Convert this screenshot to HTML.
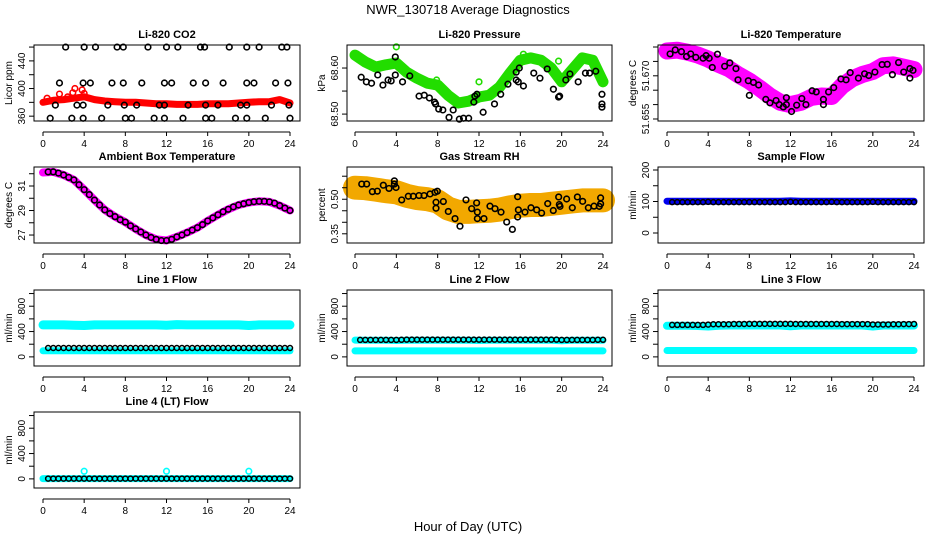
<!DOCTYPE html>
<html><head><meta charset="utf-8">
<style>
html,body{margin:0;padding:0;background:#fff;}
svg{display:block;font-family:"Liberation Sans",sans-serif;}
</style></head>
<body>
<svg id="chart" width="936" height="540" viewBox="0 0 936 540" xmlns="http://www.w3.org/2000/svg">
<text x="468" y="14" text-anchor="middle" font-size="13">NWR_130718  Average Diagnostics</text>
<text x="468" y="531" text-anchor="middle" font-size="13">Hour of Day (UTC)</text>
</svg>
<script>
const HOURS=[0,1,2,3,4,5,6,7,8,9,10,11,12,13,14,15,16,17,18,19,20,21,22,23,24];
const HALF=[0.5,1,1.5,2,2.5,3,3.5,4,4.5,5,5.5,6,6.5,7,7.5,8,8.5,9,9.5,10,10.5,11,11.5,12,12.5,13,13.5,14,14.5,15,15.5,16,16.5,17,17.5,18,18.5,19,19.5,20,20.5,21,21.5,22,22.5,23,23.5,24];
const X_TICKS=[0,4,8,12,16,20,24];

// CO2
const co2Red=[380,383,384,386,388,384,382,381,380,380,379,378,378,377,377,377,378,378,378,379,380,381,381,384,379];
const co2SpikeX=[1.6,2.9,3.1,3.8,4.0,0.4,2.4];
const co2SpikeY=[392,394,400,398,393,386,388];
const co2BlackX=[2.2,4.0,5.1,7.2,7.8,10.2,12.0,13.1,15.3,15.7,18.1,19.8,21.0,23.2,23.7,
1.6,3.9,4.6,6.7,7.8,9.6,11.8,12.5,14.6,15.8,17.5,19.8,20.5,22.6,23.8,
1.2,3.3,3.9,6.3,7.9,9.1,11.3,11.8,14.1,15.8,17.0,19.2,19.8,22.2,23.9,
0.7,2.8,3.9,5.7,8.0,8.6,10.8,11.8,13.6,15.8,16.4,18.7,19.8,21.6,24.0];
const co2BlackY=[460,460,460,460,460,460,460,460,460,460,460,460,460,460,460,
408,408,408,408,408,408,408,408,408,408,408,408,408,408,408,
376,376,376,376,376,376,376,376,376,376,376,376,376,376,376,
357,357,357,357,357,357,357,357,357,357,357,357,357,357,357];

// Pressure
const presGreen=[68.628,68.613,68.602,68.607,68.611,68.591,68.578,68.567,68.563,68.541,68.524,68.528,68.537,68.541,68.559,68.589,68.617,68.622,68.617,68.600,68.570,68.596,68.622,68.617,68.570];
const presStrayX=[4.0,12.0,7.9,16.3,19.7,0.2];
const presStrayY=[68.646,68.570,68.574,68.630,68.615,68.630];
const presBlackX=[0.6,1.1,1.6,2.2,2.7,3.2,3.5,3.9,3.9,4.6,5.3,6.2,6.7,7.2,7.7,7.8,8.1,8.5,9.1,9.5,10.1,10.5,11.0,11.5,11.6,11.8,12.4,13.5,14.1,14.8,15.6,15.6,15.8,15.9,16.3,17.3,17.9,18.6,19.2,19.7,19.8,20.4,20.8,21.6,22.3,22.7,23.3,23.9,23.9,23.9];
const presBlackY=[68.580,68.570,68.567,68.585,68.563,68.574,68.572,68.585,68.624,68.570,68.583,68.539,68.541,68.535,68.526,68.522,68.511,68.509,68.493,68.509,68.489,68.491,68.491,68.526,68.539,68.543,68.504,68.522,68.543,68.565,68.591,68.574,68.570,68.600,68.561,68.589,68.578,68.598,68.554,68.537,68.539,68.574,68.587,68.570,68.589,68.589,68.593,68.543,68.522,68.515];

// Li-820 temperature
const tempMag=[51.6786,51.6789,51.6782,51.6772,51.6758,51.6740,51.6725,51.6702,51.6682,51.6657,51.6630,51.6608,51.6600,51.6608,51.6625,51.6630,51.6628,51.6665,51.6690,51.6705,51.6715,51.6735,51.6738,51.6730,51.6722];
const tempBlackX=[0.3,0.8,1.4,1.9,2.3,2.8,3.5,3.8,4.1,4.4,4.9,5.6,6.1,6.7,6.9,7.9,8.0,8.4,8.9,9.6,10.0,10.6,10.9,11.3,11.6,11.6,12.1,12.6,13.1,13.5,14.1,14.5,15.2,15.2,15.7,16.2,16.9,17.4,17.8,18.6,19.2,19.6,20.2,20.9,21.4,21.9,22.5,23.0,23.6,23.6,23.9];
const tempBlackY=[51.6776,51.6790,51.6784,51.6767,51.6776,51.6764,51.6761,51.6770,51.6761,51.6729,51.6775,51.6733,51.6745,51.6725,51.6686,51.6683,51.6632,51.6677,51.6668,51.6618,51.6606,51.6614,51.6600,51.6592,51.6624,51.6600,51.6576,51.6598,51.6621,51.6600,51.6648,51.6644,51.6600,51.6618,51.6644,51.6659,51.6689,51.6686,51.6711,51.6692,51.6707,51.6701,51.6713,51.6739,51.6740,51.6704,51.6746,51.6713,51.6725,51.6692,51.6719];

// Ambient box temperature
const ambMag=[32.1,32.15,31.9,31.5,30.7,29.85,29.05,28.5,28.05,27.5,27.0,26.65,26.55,26.85,27.2,27.6,28.15,28.65,29.1,29.45,29.65,29.75,29.7,29.4,29.0];
const ambBlack=[32.15,32.15,32.05,31.9,31.7,31.5,31.1,30.7,30.3,29.85,29.45,29.05,28.75,28.5,28.25,28.05,27.75,27.5,27.25,27.0,26.8,26.65,26.55,26.55,26.65,26.85,27.0,27.2,27.4,27.6,27.85,28.15,28.4,28.65,28.9,29.1,29.3,29.45,29.55,29.65,29.72,29.75,29.75,29.7,29.6,29.4,29.2,29.0];

// Gas stream RH
const rhOrange=[0.55,0.548,0.542,0.535,0.53,0.515,0.505,0.5,0.49,0.46,0.445,0.445,0.448,0.45,0.455,0.465,0.472,0.475,0.475,0.48,0.485,0.49,0.495,0.495,0.495];
const rhBlackX=[0.65,1.13,1.68,2.16,2.74,3.29,3.81,3.81,3.97,4.52,5.16,5.64,6.19,6.68,7.26,7.74,7.97,7.84,7.84,8.55,9.03,9.68,10.16,10.74,11.29,11.77,11.84,11.84,12.48,13.06,13.55,14.13,14.68,15.23,15.74,15.81,15.74,16.45,17.03,17.58,18.06,18.65,19.19,19.71,19.77,19.84,20.48,21.03,21.52,22.03,22.58,23.13,23.64,23.77,23.77];
const rhBlackY=[0.566,0.566,0.533,0.535,0.561,0.547,0.580,0.566,0.551,0.497,0.513,0.513,0.516,0.516,0.523,0.530,0.535,0.487,0.461,0.490,0.447,0.416,0.383,0.497,0.459,0.484,0.444,0.416,0.416,0.470,0.459,0.444,0.401,0.369,0.511,0.454,0.423,0.444,0.463,0.454,0.440,0.481,0.451,0.510,0.477,0.469,0.501,0.463,0.510,0.491,0.463,0.470,0.469,0.506,0.480];

// Sample flow
const sampleBlue=[101,101,101,101,101,101,101,101,101,101,101,101,102,101,101,101,101,101,101,101,101,101,101,101,101];
const sampleBlack=[98,98,98,98,98,98,98,99,98,98,98,98,98,98,98,98,98,98,98,98,98,98,98,99,98,98,98,98,98,98,98,99,98,98,98,98,98,98,98,99,98,98,98,98,98,98,98,98];

// Line flows
const line1Upper=[505,505,505,500,495,505,505,505,505,505,505,505,500,510,505,505,505,505,505,505,495,505,505,505,505];
const line1Lower=[96,96,96,96,96,96,96,96,96,96,96,96,96,96,96,96,96,96,96,96,96,96,96,96,96];
const line1Black=[140,140,140,140,140,140,140,140,140,140,140,140,140,140,140,140,140,140,140,140,140,140,140,140,140,140,140,140,140,140,140,140,140,140,140,140,140,140,140,140,140,140,140,140,140,140,140,140];
const line2Upper=[265,262,262,262,258,262,262,262,262,262,262,262,258,262,262,262,262,262,262,262,255,262,262,262,262];
const line2Lower=[95,95,95,95,95,95,95,95,95,95,95,95,95,95,95,95,95,95,95,95,95,95,95,95,95];
const line2Black=[268,268,268,268,268,268,268,268,270,272,272,272,272,272,272,272,272,272,272,272,272,272,272,272,272,272,272,272,272,272,272,272,272,272,272,272,272,272,272,268,268,268,268,268,268,268,270,270];
const line3Upper=[490,490,490,488,480,492,495,495,495,495,495,495,485,495,495,495,495,495,495,495,480,495,495,495,495];
const line3Lower=[100,100,100,100,100,100,100,100,100,100,100,100,100,100,100,100,100,100,100,100,100,100,100,100,100];
const line3Black=[505,505,505,505,505,505,505,510,515,515,515,515,520,520,520,522,522,522,522,522,522,522,522,522,520,520,520,520,520,520,520,520,520,518,518,518,518,518,518,512,512,512,512,515,515,518,518,520];
const line4Cyan=[5,5,5,5,5,5,5,5,5,5,5,5,5,5,5,5,5,5,5,5,5,5,5,5,5];
const line4SpikeX=[4,12,20];
const line4SpikeY=[120,120,120];
const line4Black=[5,5,5,5,5,5,5,5,5,5,5,5,5,5,5,5,5,5,5,5,5,5,5,5,5,5,5,5,5,5,5,5,5,5,5,5,5,5,5,5,5,5,5,5,5,5,5,5];

const svg=document.getElementById('chart');
const NS='http://www.w3.org/2000/svg';
const COLS=[{L:34,R:300,x0:43,x24:290},{L:347,R:612,x0:355,x24:603},{L:658,R:924,x0:667,x24:914}];
const ROWS=[45,167,290,412];
const H=76;

function mk(tag,attrs,parent){const e=document.createElementNS(NS,tag);for(const k in attrs)e.setAttribute(k,attrs[k]);(parent||svg).appendChild(e);return e;}

function makePanel(name,col,row,title,ylab,ymin,ymax,ticks,labels){
  const c=COLS[col],top=ROWS[row],bot=top+H;
  const g=mk('g',{});
  
  
  const sx=h=>c.x0+(h/24)*(c.x24-c.x0);
  const sy=v=>top+(ymax-v)/(ymax-ymin)*H;
  const t=mk('text',{x:(c.L+c.R)/2,y:top-7,'text-anchor':'middle','font-size':'11','font-weight':'bold'},g);
  t.textContent=title;
  
  
  const marks=mk('g',{},g);
  
  
  const box=mk('rect',{x:c.L,y:top,width:c.R-c.L,height:H,fill:'none',stroke:'#000','stroke-width':1},g);
  
  
  // x axis
  const xa=mk('g',{},g);
  
  
  const ya=bot+11;
  mk('line',{x1:sx(0),x2:sx(24),y1:ya,y2:ya,stroke:'#000'},xa);
  X_TICKS.forEach(h=>{
    mk('line',{x1:sx(h),x2:sx(h),y1:ya,y2:ya+4,stroke:'#000'},xa);
    const tl=mk('text',{x:sx(h),y:ya+15,'text-anchor':'middle','font-size':'10'},xa);
    tl.textContent=h;
    
    
  });
  // y axis
  const yaG=mk('g',{},g);
  
  
  ticks.forEach(v=>{mk('line',{x1:c.L-5,x2:c.L,y1:sy(v),y2:sy(v),stroke:'#000'},yaG);});
  labels.forEach(s=>{
    const v=parseFloat(s);
    const tl=mk('text',{x:0,y:0,'text-anchor':'middle','font-size':'10',transform:`translate(${c.L-9},${sy(v)}) rotate(-90)`},yaG);
    tl.textContent=s;
    
    
  });
  const yl=mk('text',{x:0,y:0,'text-anchor':'middle','font-size':'10',transform:`translate(${c.L-22},${top+H/2}) rotate(-90)`},g);
  yl.textContent=ylab;
  
  
  return {marks,sx,sy};
}
function band(p,xs,ys,color,w,nm){
  const d=xs.map((h,i)=>p.sx(h).toFixed(1)+','+p.sy(ys[i]).toFixed(1)).join(' ');
  const e=mk('polyline',{points:d,fill:'none',stroke:color,'stroke-width':w,'stroke-linejoin':'round','stroke-linecap':'round'},p.marks);
  
  
}
function pts(p,xs,ys,color,nm,r,sw){
  xs.forEach((h,i)=>{
    const e=mk('circle',{cx:p.sx(h),cy:p.sy(ys[i]),r:r||2.8,fill:'none',stroke:color,'stroke-width':sw||1.6},p.marks);
    
    
  });
}

let p;
p=makePanel('co2',0,0,'Li-820 CO2','Licor ppm',353,463,[360,380,400,420,440,460],['360','400','440']);
band(p,HOURS,co2Red,'#ff0000',7,'co2-red-series');
pts(p,co2SpikeX,co2SpikeY,'#ff0000','co2-red-point');
pts(p,co2BlackX,co2BlackY,'#000','co2-black-point');

p=makePanel('pressure',1,0,'Li-820 Pressure','kPa',68.485,68.65,[68.50,68.55,68.60],['68.50','68.60']);
band(p,HOURS,presGreen,'#22dd00',11,'pressure-green-series');
pts(p,presStrayX,presStrayY,'#22dd00','pressure-green-point');
pts(p,presBlackX,presBlackY,'#000','pressure-black-point');

p=makePanel('li820-temp',2,0,'Li-820 Temperature','degrees C',51.6543,51.6807,[51.655,51.660,51.665,51.670,51.675,51.680],['51.655','51.670']);
band(p,HOURS,tempMag,'#ff00ff',17,'li820-temp-magenta-series');
pts(p,tempBlackX,tempBlackY,'#000','li820-temp-black-point');

p=makePanel('ambient',0,1,'Ambient Box Temperature','degrees C',26.35,32.55,[27,28,29,30,31,32],['27','29','31']);
band(p,HOURS,ambMag,'#ff00ff',8,'ambient-magenta-series');
pts(p,HALF,ambBlack,'#000','ambient-black-point');

p=makePanel('rh',1,1,'Gas Stream RH','percent',0.31,0.64,[0.35,0.40,0.45,0.50,0.55,0.60],['0.35','0.50']);
band(p,HOURS,rhOrange,'#f2a800',24,'rh-orange-series');
pts(p,rhBlackX,rhBlackY,'#000','rh-black-point');

p=makePanel('sample-flow',2,1,'Sample Flow','ml/min',-31.7,209.5,[0,50,100,150,200],['0','100','200']);
band(p,HOURS,sampleBlue,'#0000ee',7,'sample-flow-blue-series');
pts(p,HALF,sampleBlack,'#000','sample-flow-black-point',2.5,1.5);

const FT=[0,200,400,600,800,1000],FL=['0','400','800'];
p=makePanel('line1-flow',0,2,'Line 1 Flow','ml/min',-144,1056,FT,FL);
band(p,HOURS,line1Upper,'#00ffff',9,'line1-cyan-upper');
band(p,HOURS,line1Lower,'#00ffff',7,'line1-cyan-lower');
pts(p,HALF,line1Black,'#000','line1-black-point',2.5,1.5);

p=makePanel('line2-flow',1,2,'Line 2 Flow','ml/min',-144,1056,FT,FL);
band(p,HOURS,line2Upper,'#00ffff',7,'line2-cyan-upper');
band(p,HOURS,line2Lower,'#00ffff',7,'line2-cyan-lower');
pts(p,HALF,line2Black,'#000','line2-black-point',2.5,1.5);

p=makePanel('line3-flow',2,2,'Line 3 Flow','ml/min',-144,1056,FT,FL);
band(p,HOURS,line3Upper,'#00ffff',8,'line3-cyan-upper');
band(p,HOURS,line3Lower,'#00ffff',7,'line3-cyan-lower');
pts(p,HALF,line3Black,'#000','line3-black-point',2.5,1.5);

p=makePanel('line4-flow',0,3,'Line 4 (LT) Flow','ml/min',-144,1056,FT,FL);
band(p,HOURS,line4Cyan,'#00ffff',7,'line4-cyan-series');
pts(p,line4SpikeX,line4SpikeY,'#00ffff','line4-cyan-spike');
pts(p,HALF,line4Black,'#000','line4-black-point',2.5,1.5);
</script>
</body></html>
